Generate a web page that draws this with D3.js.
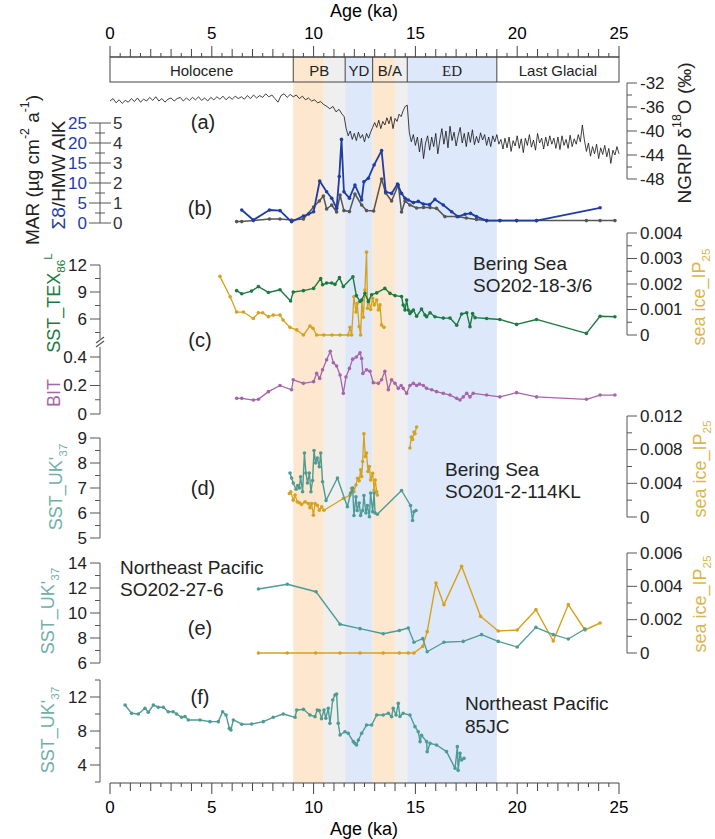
<!DOCTYPE html>
<html><head><meta charset="utf-8">
<script src="https://cdn.jsdelivr.net/npm/d3@7"></script>
<style>body{margin:0;background:#fff}svg{display:block}text{font-family:"Liberation Sans",Arial,sans-serif}</style>
</head><body><svg id="c" width="715" height="839"></svg>
<script>
// ---------------- DATA ----------------
const periods = [
  {name:"Holocene", from:0, to:9.0},
  {name:"PB", from:9.0, to:11.55},
  {name:"YD", from:11.55, to:12.9},
  {name:"B/A", from:12.9, to:14.6},
  {name:"ED", from:14.6, to:19.0},
  {name:"Last Glacial", from:19.0, to:25}
];
const bands = [
  {from:9.0, to:10.5, kind:"warm"},
  {from:10.5, to:11.55, kind:"grey"},
  {from:11.55, to:12.9, kind:"cold"},
  {from:12.9, to:14.0, kind:"warm"},
  {from:14.0, to:14.6, kind:"grey"},
  {from:14.6, to:19.0, kind:"cold"}
];
const ageTicks = [0,5,10,15,20,25];

const ngrip = [[0,-35.0],[0.15,-34.6],[0.3,-35.3],[0.45,-34.8],[0.6,-35.4],[0.75,-34.9],[0.9,-35.2],[1.05,-34.6],[1.2,-35.1],[1.35,-34.5],[1.5,-35.2],[1.65,-34.7],[1.8,-35.0],[1.95,-34.4],[2.1,-34.9],[2.25,-34.3],[2.4,-35.0],[2.55,-34.6],[2.7,-35.2],[2.85,-34.7],[3.0,-34.5],[3.15,-35.0],[3.3,-34.6],[3.45,-34.4],[3.6,-35.0],[3.75,-34.5],[3.9,-34.9],[4.05,-34.4],[4.2,-34.8],[4.35,-34.3],[4.5,-34.9],[4.65,-34.5],[4.8,-35.0],[4.95,-34.4],[5.1,-34.8],[5.25,-34.3],[5.4,-34.7],[5.55,-34.2],[5.7,-34.8],[5.85,-34.3],[6.0,-34.7],[6.15,-34.2],[6.3,-34.6],[6.45,-34.3],[6.6,-34.7],[6.75,-34.1],[6.9,-34.6],[7.05,-34.0],[7.2,-34.5],[7.35,-34.1],[7.5,-34.4],[7.65,-33.8],[7.8,-34.3],[7.95,-34.0],[8.1,-34.6],[8.25,-35.2],[8.4,-34.1],[8.55,-33.8],[8.7,-34.4],[8.85,-33.9],[9.0,-34.3],[9.15,-34.0],[9.3,-34.6],[9.45,-34.2],[9.6,-34.8],[9.75,-34.5],[9.9,-35.0],[10.05,-34.8],[10.2,-35.3],[10.35,-35.1],[10.5,-35.6],[10.65,-35.9],[10.8,-36.3],[10.95,-35.9],[11.1,-36.8],[11.25,-36.4],[11.4,-37.2],[11.5,-37.6],[11.6,-39.6],[11.7,-40.8],[11.8,-40.0],[11.9,-41.4],[12.0,-40.4],[12.1,-41.6],[12.2,-40.2],[12.3,-41.2],[12.4,-40.6],[12.5,-41.8],[12.6,-40.4],[12.7,-41.2],[12.8,-40.2],[12.9,-39.4],[13.0,-38.6],[13.1,-39.4],[13.2,-38.2],[13.3,-39.6],[13.4,-38.4],[13.5,-39.0],[13.6,-37.8],[13.7,-38.8],[13.8,-37.6],[13.9,-39.6],[14.0,-37.9],[14.1,-38.4],[14.2,-37.2],[14.3,-37.6],[14.4,-36.6],[14.5,-35.9],[14.6,-35.7],[14.7,-40.2],[14.8,-41.8],[14.9,-40.6],[15.0,-42.4],[15.1,-41.0],[15.2,-43.5],[15.3,-41.2],[15.4,-44.6],[15.5,-42.0],[15.6,-40.8],[15.7,-43.2],[15.8,-41.0],[15.9,-42.6],[16.0,-40.4],[16.1,-43.8],[16.2,-41.5],[16.3,-39.6],[16.4,-42.2],[16.5,-40.0],[16.6,-42.8],[16.7,-39.2],[16.8,-41.6],[16.9,-40.2],[17.0,-42.5],[17.1,-40.8],[17.2,-39.4],[17.3,-42.0],[17.4,-40.4],[17.5,-42.6],[17.6,-40.2],[17.7,-41.9],[17.8,-39.8],[17.9,-42.3],[18.0,-40.9],[18.1,-42.0],[18.2,-40.3],[18.3,-41.5],[18.4,-40.6],[18.5,-42.4],[18.6,-41.0],[18.7,-42.6],[18.8,-40.8],[18.9,-41.8],[19.0,-40.6],[19.1,-42.2],[19.2,-41.4],[19.3,-43.0],[19.4,-41.2],[19.5,-42.8],[19.6,-41.0],[19.7,-43.4],[19.8,-41.6],[19.9,-42.5],[20.0,-40.8],[20.1,-42.9],[20.2,-41.3],[20.3,-43.6],[20.4,-41.2],[20.5,-42.4],[20.6,-40.6],[20.7,-42.7],[20.8,-41.5],[20.9,-43.2],[21.0,-40.4],[21.1,-42.0],[21.2,-41.2],[21.3,-43.0],[21.4,-41.0],[21.5,-42.5],[21.6,-40.8],[21.7,-42.2],[21.8,-41.2],[21.9,-42.9],[22.0,-41.0],[22.1,-43.1],[22.2,-40.8],[22.3,-42.4],[22.4,-41.4],[22.5,-42.9],[22.6,-40.7],[22.7,-42.6],[22.8,-41.3],[22.9,-42.2],[23.0,-40.6],[23.1,-41.8],[23.2,-39.0],[23.3,-41.5],[23.4,-43.4],[23.5,-42.0],[23.6,-44.2],[23.7,-42.6],[23.8,-43.8],[23.9,-42.2],[24.0,-44.6],[24.1,-42.8],[24.2,-43.9],[24.3,-42.4],[24.4,-44.3],[24.5,-42.9],[24.6,-45.4],[24.7,-43.2],[24.8,-44.0],[24.9,-42.6],[25.0,-43.8]];

const sigma8 = [[6.47,3.25],[7.04,0.75],[7.83,3.25],[8.35,3.1],[8.92,0.3],[9.5,1.75],[9.75,2.25],[10.0,2.8],[10.3,10.5],[10.64,7.8],[10.89,6.2],[11.13,3.7],[11.26,11.6],[11.37,20.9],[11.49,7.8],[11.76,6.2],[12.03,9.5],[12.36,5.75],[12.47,10.3],[12.69,11.2],[12.97,14.5],[13.34,18.1],[13.54,7.8],[13.83,7.4],[14.12,9.75],[14.32,7.4],[14.49,6.2],[14.65,5.75],[14.9,5.1],[15.14,5.4],[15.39,4.75],[15.7,4.6],[15.96,5.9],[16.37,4.5],[16.78,2.8],[17.1,1.6],[17.44,2.2],[17.71,2.4],[18.0,1.6],[18.5,0.6],[19.15,0.6],[19.97,0.6],[20.95,0.6],[24.07,3.8]];

const mar = [[6.22,0.07],[6.47,0.07],[7.04,0.12],[7.83,0.2],[8.35,0.2],[8.92,0.15],[9.5,0.2],[10.0,0.8],[10.28,1.1],[10.48,1.35],[10.64,0.7],[10.89,0.9],[11.13,0.55],[11.3,1.4],[11.49,0.62],[11.76,0.57],[12.03,1.45],[12.36,0.9],[12.6,0.62],[12.95,0.6],[13.34,2.2],[13.54,1.5],[13.83,1.1],[14.16,1.9],[14.32,0.55],[14.49,1.1],[14.73,0.9],[15.06,0.75],[15.4,0.78],[15.72,0.77],[16.04,0.73],[16.45,0.32],[17.03,0.32],[17.5,0.25],[18.0,0.18],[18.5,0.12],[19.15,0.12],[19.97,0.12],[20.95,0.12],[23.4,0.12],[24.07,0.12],[24.8,0.12]];

const texC = [[6.22,9.15],[6.47,8.8],[6.95,9.1],[7.29,9.6],[7.78,8.95],[8.35,9.25],[8.87,8.0],[9.0,9.0],[9.5,9.15],[10.0,9.4],[10.35,10.5],[10.44,9.8],[10.64,10.0],[10.89,10.0],[11.05,9.85],[11.27,10.6],[11.46,9.6],[11.93,10.7],[12.1,8.6],[12.28,7.95],[12.36,8.1],[12.52,8.85],[12.69,7.95],[12.85,8.7],[13.1,8.9],[13.5,9.4],[13.75,8.85],[14.0,8.6],[14.32,8.5],[14.4,7.55],[14.49,7.0],[14.57,8.1],[14.65,7.0],[14.73,6.6],[14.8,6.8],[14.9,7.0],[15.06,6.3],[15.3,7.1],[15.47,6.45],[15.55,6.25],[15.72,6.7],[15.96,6.25],[16.37,6.1],[16.7,6.1],[17.03,5.3],[17.27,6.55],[17.52,6.7],[17.68,5.15],[17.81,6.6],[17.93,6.15],[18.5,6.05],[19.15,5.95],[19.97,5.4],[20.95,5.95],[23.4,4.4],[24.07,6.3],[24.8,6.25]];

const ipC = [[5.4,0.0023],[5.9,0.0015],[6.22,0.0009],[6.55,0.0009],[7.04,0.00065],[7.29,0.00087],[7.5,0.00087],[7.78,0.00072],[8.02,0.00078],[8.35,0.00078],[8.5,0.00059],[8.84,0.0003],[9.17,0.0002],[9.5,0.0],[9.82,0.00035],[9.97,0.00026],[10.15,0.0],[10.5,0],[10.9,0],[11.3,0],[11.7,0],[11.79,0.0003],[11.87,0],[11.98,0.0015],[12.08,0.0009],[12.14,0.00124],[12.24,0.00033],[12.31,0.0],[12.37,0.00137],[12.44,0.0007],[12.52,0.00176],[12.6,0.00325],[12.65,0.00105],[12.72,0.00137],[12.8,0.001],[12.9,0.00144],[12.98,0.00118],[13.1,0.00137],[13.18,0.00098],[13.26,0.00118],[13.34,0.00039],[13.46,0.0003]];

const bit = [[6.22,0.11],[6.47,0.11],[7.04,0.098],[7.29,0.103],[7.78,0.157],[8.35,0.2],[8.92,0.17],[9.0,0.24],[9.5,0.215],[10.0,0.227],[10.15,0.285],[10.3,0.25],[10.44,0.31],[10.64,0.38],[10.82,0.44],[10.97,0.36],[11.13,0.337],[11.3,0.274],[11.46,0.145],[11.59,0.26],[11.76,0.32],[11.92,0.385],[12.1,0.4],[12.28,0.43],[12.36,0.39],[12.42,0.285],[12.6,0.31],[12.77,0.3],[12.93,0.22],[13.18,0.215],[13.34,0.24],[13.5,0.3],[13.67,0.17],[13.83,0.24],[14.0,0.215],[14.16,0.18],[14.3,0.2],[14.4,0.18],[14.57,0.145],[14.73,0.2],[14.9,0.215],[15.06,0.2],[15.2,0.21],[15.39,0.2],[15.55,0.18],[15.8,0.17],[16.04,0.157],[16.37,0.145],[16.7,0.133],[17.03,0.11],[17.19,0.098],[17.35,0.12],[17.52,0.145],[17.68,0.12],[17.84,0.145],[18.5,0.133],[19.15,0.12],[19.97,0.15],[20.95,0.12],[23.4,0.103],[24.07,0.133],[24.8,0.133]];

const ukD = [[8.84,7.6],[8.92,7.4],[9.0,7.2],[9.14,6.95],[9.22,7.1],[9.3,7.0],[9.36,7.45],[9.46,6.85],[9.55,8.4],[9.62,7.6],[9.7,7.2],[9.79,7.6],[9.87,6.85],[9.95,7.3],[10.02,8.5],[10.1,8.0],[10.18,8.2],[10.28,7.85],[10.35,8.4],[10.44,7.25],[10.61,6.5],[11.17,7.4],[11.66,6.25],[11.82,6.8],[11.92,7.0],[11.98,5.9],[12.08,6.65],[12.14,6.1],[12.24,6.4],[12.31,5.9],[12.41,6.1],[12.47,6.7],[12.57,6.0],[12.64,6.3],[12.74,5.85],[12.8,6.8],[12.9,6.05],[12.97,6.8],[13.02,6.0],[13.13,5.95],[14.32,6.9],[14.76,6.3],[14.86,5.7],[14.93,6.05],[15.03,6.1]];

const ipD = [[8.81,0.0028],[8.88,0.003],[9.0,0.002],[9.09,0.0026],[9.2,0.0018],[9.3,0.0017],[9.41,0.0015],[9.58,0.0018],[9.74,0.0016],[9.82,0.0011],[9.9,0.0016],[9.99,0.0002],[10.07,0.0016],[10.18,0.0014],[10.28,0.0008],[10.4,0.0012],[10.51,0.0008],[11.46,0.0022],[11.79,0.0026],[11.87,0.0034],[11.98,0.003],[12.08,0.0038],[12.16,0.0046],[12.24,0.0043],[12.31,0.0056],[12.36,0.0048],[12.41,0.0066],[12.47,0.0099],[12.54,0.0072],[12.6,0.0076],[12.67,0.0054],[12.74,0.006],[12.8,0.0044],[12.9,0.0052],[12.97,0.0032],[13.03,0.0044],[13.1,0.003],[13.13,0.0026],null,[14.73,0.0082],[14.8,0.0095],[14.86,0.0092],[14.93,0.0101],[14.98,0.0099],[15.06,0.0107]];

const ukE = [[7.29,11.92],[8.71,12.3],[10.12,11.7],[11.3,9.1],[12.28,8.75],[13.42,8.34],[14.21,8.6],[14.65,8.8],[14.93,7.66],[15.36,7.95],[15.58,6.9],[16.4,7.66],[17.35,7.73],[18.25,8.27],[19.07,7.73],[20.0,7.28],[20.92,8.85],[21.77,8.27],[22.51,7.92],[23.33,8.72]];

const ipE = [[7.29,0],[8.7,0],[10.1,0],[11.3,0],[12.28,0],[13.42,0],[14.21,0],[14.65,0],[14.93,0],[15.36,0.0004],[15.58,0.00128],[16.01,0.0042],[16.4,0.0029],[17.27,0.0052],[18.2,0.0022],[19.07,0.00132],[20.0,0.00138],[20.92,0.0026],[21.77,0.00072],[22.51,0.0029],[23.33,0.00138],[24.07,0.0018]];

const ukF = [[0.74,11.06],[1.06,10.08],[1.39,10.0],[1.72,10.67],[1.88,10.2],[2.13,11.06],[2.37,10.8],[2.62,10.8],[2.86,10.27],[3.1,10.27],[3.27,10.0],[3.52,9.61],[3.68,9.7],[3.85,9.3],[4.42,9.3],[4.91,9.1],[5.32,9.1],[5.53,10.27],[5.7,9.88],[5.86,8.31],[5.94,8.12],[6.06,9.3],[6.47,8.8],[6.96,8.82],[7.53,9.1],[8.02,9.61],[8.51,10.0],[9.09,9.61],[9.17,10.47],[9.5,10.55],[9.82,9.88],[10.07,9.69],[10.18,10.47],[10.28,10.4],[10.39,9.45],[10.51,10.47],[10.6,9.5],[10.72,10.67],[10.8,8.9],[10.94,11.65],[11.05,12.24],[11.13,12.35],[11.21,8.9],[11.3,7.53],[11.54,7.92],[11.7,7.73],[11.95,6.75],[12.03,6.55],[12.11,6.35],[12.2,6.94],[12.36,7.73],[12.6,8.7],[12.85,8.7],[13.1,9.88],[13.42,9.88],[13.67,10.08],[13.83,9.69],[13.91,10.67],[14.05,9.88],[14.16,11.25],[14.24,9.7],[14.4,10.08],[14.73,9.88],[14.98,8.51],[15.14,7.92],[15.23,6.75],[15.3,7.5],[15.55,6.75],[15.58,5.57],[15.72,6.55],[16.04,6.35],[16.53,5.57],[16.95,3.61],[17.06,6.16],[17.1,3.37],[17.19,5.37],[17.27,4.59],[17.39,4.78]];

// axis tick lists
const ngripTicks = [-32,-36,-40,-44,-48];
const marTicks = [0,1,2,3,4,5];
const sigmaTicks = [0,5,10,15,20,25];
const texTicks = [6,9,12];
const bitTicks = [0,0.2,0.4];
const ipCTicks = ["0","0.001","0.002","0.003","0.004"];
const ukDTicks = [5,6,7,8,9];
const ipDTicks = ["0","0.004","0.008","0.012"];
const ukETicks = [6,8,10,12,14];
const ipETicks = ["0","0.002","0.004","0.006"];
const ukFTicks = [4,8,12];

// ---------------- DRAW ----------------
const svg = d3.select("#c");
const C = {blue:"#1f3da6", gray:"#555", green:"#1c7a40", gold:"#d6a21c", purple:"#a665ab", teal:"#4e9b96",
  tealT:"#6fb0aa", goldT:"#dcb54e", warm:"#fde7cf", grey:"#efefef", cold:"#dde8fb"};
const x = d3.scaleLinear([0,25],[110,619]);
const LX = 100, RX = 627;

const yNG = d3.scaleLinear([-48,-32],[179,83]);
const yMAR = d3.scaleLinear([0,5],[223,123]);
const ySig = d3.scaleLinear([0,25],[223,123]);
const yTEX = d3.scaleLinear([6,12],[319,265]);
const yBIT = d3.scaleLinear([0,0.4],[414,357]);
const yIPc = d3.scaleLinear([0,0.004],[335,233]);
const yUKd = d3.scaleLinear([5,9],[538,438]);
const yIPd = d3.scaleLinear([0,0.012],[517,416]);
const yUKe = d3.scaleLinear([6,14],[663,563]);
const yIPe = d3.scaleLinear([0,0.006],[653,553]);
const yUKf = d3.scaleLinear([2,14],[782,680]);

// bands
svg.append("g").selectAll("rect").data(bands).join("rect")
  .attr("x",d=>x(d.from)).attr("width",d=>x(d.to)-x(d.from))
  .attr("y",57).attr("height",783-57).attr("fill",d=>C[d.kind]);

// period box
const BT=57, BB=82;
svg.append("rect").attr("x",x(0)).attr("y",BT).attr("width",x(25)-x(0)).attr("height",BB-BT)
  .attr("fill","none").attr("stroke","#444").attr("stroke-width",1);
svg.append("g").selectAll("line").data(periods.slice(1)).join("line")
  .attr("x1",d=>x(d.from)).attr("x2",d=>x(d.from)).attr("y1",BT).attr("y2",BB).attr("stroke","#444");
svg.append("g").selectAll("text").data(periods).join("text")
  .attr("x",d=>(x(d.from)+x(d.to))/2).attr("y",(BT+BB)/2+1).attr("text-anchor","middle")
  .attr("dominant-baseline","central").attr("font-size",15).attr("fill","#222")
  .style("font-family",d=>d.name==="ED"?"'Liberation Serif',serif":null)
  .text(d=>d.name);

// age axes
function ageAxis(y0, dir){
  const g = svg.append("g");
  const halfTicks = d3.range(0,25.01,0.5);
  g.append("line").attr("x1",x(0)).attr("x2",x(25)).attr("y1",y0).attr("y2",y0).attr("stroke","#444");
  g.selectAll("line.t").data(halfTicks).join("line").attr("class","t")
    .attr("x1",d=>x(d)).attr("x2",d=>x(d)).attr("y1",y0)
    .attr("y2",d=> y0 + dir*(d%5===0?11:(d%1===0?8:4))).attr("stroke","#444");
  g.selectAll("text").data(ageTicks).join("text")
    .attr("x",d=>x(d)).attr("y",y0+dir*24).attr("text-anchor","middle").attr("dominant-baseline","central")
    .attr("font-size",17).text(d=>d);
}
ageAxis(BT,-1);
ageAxis(783,1);
svg.append("text").attr("x",364).attr("y",11).attr("text-anchor","middle").attr("dominant-baseline","central").attr("font-size",18).text("Age (ka)");
svg.append("text").attr("x",364).attr("y",829).attr("text-anchor","middle").attr("dominant-baseline","central").attr("font-size",18).text("Age (ka)");

// generic vertical axis
function vAxis(xp, side, scale, majors, minors, range, opt={}){
  const g = svg.append("g");
  const s = side==="left"?-1:1;
  g.append("line").attr("x1",xp).attr("x2",xp).attr("y1",scale(range[0])).attr("y2",scale(range[1])).attr("stroke","#555");
  g.selectAll("line.mn").data(minors).join("line").attr("class","mn")
    .attr("x1",xp).attr("x2",xp+s*5).attr("y1",d=>scale(d)).attr("y2",d=>scale(d)).attr("stroke","#555");
  g.selectAll("line.mj").data(majors).join("line").attr("class","mj")
    .attr("x1",xp).attr("x2",xp+s*10).attr("y1",d=>scale(+d)).attr("y2",d=>scale(+d)).attr("stroke","#555");
  if(!opt.nolabels)
  g.selectAll("text").data(majors).join("text")
    .attr("x",xp+s*13).attr("y",d=>scale(+d)).attr("text-anchor",side==="left"?"end":"start")
    .attr("dominant-baseline","central").attr("font-size",17).attr("fill",opt.color||"#222").text(d=>d);
  return g;
}
// NGRIP right axis
vAxis(RX,"right",yNG,ngripTicks,[-34,-38,-42,-46],[-48,-32]);
// (b) double axis
(function(){
  const g = svg.append("g");
  g.append("line").attr("x1",LX).attr("x2",LX).attr("y1",yMAR(0)).attr("y2",yMAR(5)).attr("stroke","#555");
  g.selectAll("line.mj").data(marTicks).join("line").attr("class","mj")
    .attr("x1",LX-11).attr("x2",LX+11).attr("y1",d=>yMAR(d)).attr("y2",d=>yMAR(d)).attr("stroke","#555");
  g.selectAll("line.mn").data([0.5,1.5,2.5,3.5,4.5]).join("line").attr("class","mn")
    .attr("x1",LX-5).attr("x2",LX+5).attr("y1",d=>yMAR(d)).attr("y2",d=>yMAR(d)).attr("stroke","#555");
  g.selectAll("text.r").data(marTicks).join("text").attr("class","r")
    .attr("x",LX+13).attr("y",d=>yMAR(d)).attr("dominant-baseline","central").attr("font-size",17).attr("fill","#333").text(d=>d);
  g.selectAll("text.l").data(sigmaTicks).join("text").attr("class","l")
    .attr("x",LX-13).attr("y",d=>ySig(d)).attr("text-anchor","end").attr("dominant-baseline","central").attr("font-size",17).attr("fill",C.blue).text(d=>d);
})();
// (c) left broken axis
vAxis(LX,"left",yTEX,texTicks,[4.5,7.5,10.5],[3.8,12]);
vAxis(LX,"left",yBIT,bitTicks,[0.1,0.3],[0,0.47]);
// break marks
svg.append("g").selectAll("line").data([0,1]).join("line")
  .attr("x1",LX-4).attr("x2",LX+4).attr("y1",d=>340+d*4+3).attr("y2",d=>340+d*4-3)
  .attr("stroke","#555").attr("stroke-width",1.2);
vAxis(RX,"right",yIPc,ipCTicks,[0.0005,0.0015,0.0025,0.0035],[0,0.004]);
// (d)
vAxis(LX,"left",yUKd,ukDTicks,[5.5,6.5,7.5,8.5],[5,9]);
vAxis(RX,"right",yIPd,ipDTicks,[0.002,0.006,0.010],[0,0.012]);
// (e)
vAxis(LX,"left",yUKe,ukETicks,[7,9,11,13],[6,14]);
vAxis(RX,"right",yIPe,ipETicks,[0.001,0.003,0.005],[0,0.006]);
// (f)
vAxis(LX,"left",yUKf,ukFTicks,[2,6,10,14],[2,14]);

// series
function series(data, ys, color, opt={}){
  const line = d3.line().defined(d=>d!==null).x(d=>x(d[0])).y(d=>ys(d[1]));
  const g = svg.append("g");
  g.append("path").datum(data).attr("d",line).attr("fill","none").attr("stroke",color)
    .attr("stroke-width",opt.w||1.4).attr("stroke-linejoin","round");
  if(opt.dots!==false)
    g.selectAll("circle").data(data.filter(d=>d!==null)).join("circle")
      .attr("cx",d=>x(d[0])).attr("cy",d=>ys(d[1])).attr("r",opt.r||1.8).attr("fill",color);
}
series(ngrip, yNG, "#111", {w:0.8, dots:false});
series(mar, yMAR, C.gray, {w:1.5});
series(sigma8, ySig, C.blue, {w:1.8});
series(ipC, yIPc, C.gold, {w:1.3});
series(texC, yTEX, C.green, {w:1.4});
series(bit, yBIT, C.purple, {w:1.3});
series(ipD, yIPd, C.gold, {w:1.3});
series(ukD, yUKd, C.teal, {w:1.4});
series(ipE, yIPe, C.gold, {w:1.4});
series(ukE, yUKe, C.teal, {w:1.3});
series(ukF, yUKf, C.teal, {w:1.4});

// panel letters
const panelLabels = [["(a)",203,122],["(b)",200,208],["(c)",200,340],["(d)",203,488],["(e)",200,628],["(f)",200,697]];
svg.append("g").selectAll("text").data(panelLabels).join("text")
  .attr("x",d=>d[1]).attr("y",d=>d[2]).attr("text-anchor","middle").attr("dominant-baseline","central")
  .attr("font-size",20).attr("fill","#222").text(d=>d[0]);

// site notes
const notes = [["Bering Sea",473,263],["SO202-18-3/6",473,285],["Bering Sea",445,469],["SO201-2-114KL",445,491],
  ["Northeast Pacific",120,567],["SO202-27-6",120,589],["Northeast Pacific",465,703],["85JC",465,726]];
svg.append("g").selectAll("text").data(notes).join("text")
  .attr("x",d=>d[1]).attr("y",d=>d[2]).attr("dominant-baseline","central")
  .attr("font-size",19).attr("fill","#222").text(d=>d[0]);

// rotated titles
function vTitle(cx, cy, parts, size){
  const t = svg.append("text").attr("transform",`translate(${cx},${cy}) rotate(-90)`)
    .attr("text-anchor","middle").attr("dominant-baseline","central").attr("font-size",size||18);
  parts.forEach(p=>{
    const s = t.append("tspan").text(p.t).attr("fill",p.c||"#222");
    if(p.sup){ s.attr("baseline-shift","super").attr("font-size",(size||18)*0.65); }
    if(p.sub){ s.attr("baseline-shift","sub").attr("font-size",(size||18)*0.65); }
  });
}
vTitle(32,170,[{t:"MAR (\u00b5g cm"},{t:"-2",sup:1},{t:" a"},{t:"-1",sup:1},{t:")"}],19);
vTitle(58,175,[{t:"\u03a38",c:C.blue},{t:"/HMW AlK"}],19);
vTitle(54,303,[{t:"SST_TEX",c:C.green},{t:"86",sub:1,c:C.green},{t:"L",sup:1,c:C.green}]);
vTitle(54,393,[{t:"BIT",c:C.purple}]);
vTitle(56,487,[{t:"SST_UK'",c:C.tealT},{t:"37",sub:1,c:C.tealT}]);
vTitle(48,611,[{t:"SST_UK'",c:C.tealT},{t:"37",sub:1,c:C.tealT}]);
vTitle(48,730,[{t:"SST_UK'",c:C.tealT},{t:"37",sub:1,c:C.tealT}]);
vTitle(684,133,[{t:"NGRIP \u03b4"},{t:"18",sup:1},{t:"O (\u2030)"}],19);
vTitle(699,297,[{t:"sea ice_IP",c:C.goldT},{t:"25",sub:1,c:C.goldT}]);
vTitle(700,469,[{t:"sea ice_IP",c:C.goldT},{t:"25",sub:1,c:C.goldT}]);
vTitle(700,604,[{t:"sea ice_IP",c:C.goldT},{t:"25",sub:1,c:C.goldT}]);
</script></body></html>
